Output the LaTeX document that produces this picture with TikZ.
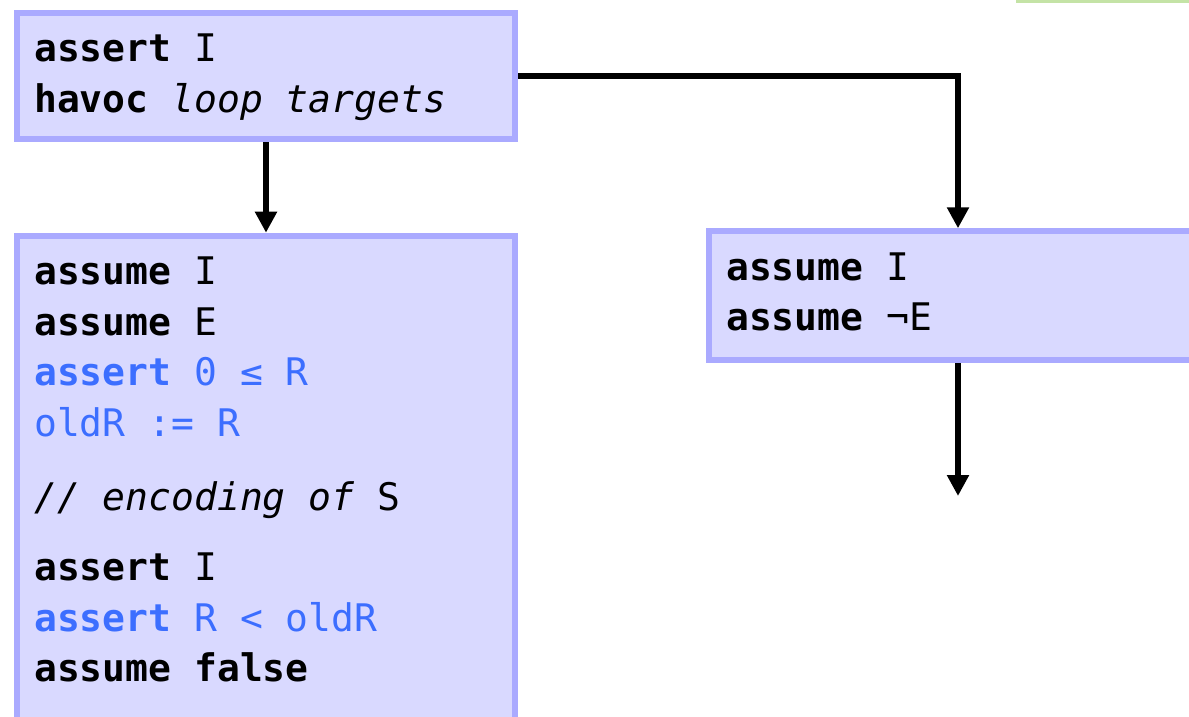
\documentclass[tikz,border=0pt]{standalone}
\usepackage{fontspec}
\setmonofont{DejaVu Sans Mono}
\usetikzlibrary{arrows.meta}
\definecolor{boxfill}{HTML}{D9D9FF}
\definecolor{boxedge}{HTML}{AAAAFF}
\definecolor{codeblue}{HTML}{3C6EFF}
\definecolor{greenedge}{HTML}{C4E3A6}
\begin{document}
\begin{tikzpicture}[x=1pt,y=-1pt,
  block/.style={draw=boxedge, fill=boxfill, line width=6pt, inner sep=0pt,
    minimum width=498pt},
  code/.style={anchor=base west, inner sep=0pt,
    font=\ttfamily\fontsize{38}{45}\selectfont},
  bluecode/.style={code, text=codeblue},
  conn/.style={line width=6.5pt, -{Triangle[length=21pt,width=21pt]}}]
\useasboundingbox (0,0) rectangle (1189,716);
\clip (0,0) rectangle (1189,716);

% edge of the neighbouring block above
\draw[greenedge, line width=3pt] (1017,-40) rectangle (1260,1);

% blocks
\node[block, minimum height=126pt] (head) at (266,76) {};
\node[block, minimum height=546pt] (body) at (266,508.7) {};
\node[block, minimum height=129pt] (exit) at (958,295.8) {};

% loop head
\node[code] (h1) at (34,61) {\textbf{assert} I};
\node[code] (h2) at (34,112) {\textbf{havoc} \textit{loop targets}};

% loop body
\node[code] (b1) at (34,284.3) {\textbf{assume} I};
\node[code] (b2) at (34,335) {\textbf{assume} E};
\node[bluecode] (b3) at (34,385.7) {\textbf{assert} 0 ≤ R};
\node[bluecode] (b4) at (34,436.4) {oldR := R};
\node[code] (b5) at (34,510.7) {\textit{// encoding of} S};
\node[code] (b6) at (34,580) {\textbf{assert} I};
\node[bluecode] (b7) at (34,631.7) {\textbf{assert} R < oldR};
\node[code] (b8) at (34,681.7) {\textbf{assume false}};

% loop exit
\node[code] (e1) at (726,280) {\textbf{assume} I};
\node[code] (e2) at (726,330) {\textbf{assume} ¬E};

% control flow
\coordinate (after) at (958,496);
\draw[conn] (head.south) -- (body.north);
\draw[conn] (head.east) -| (exit.north);
\draw[conn] (exit.south) -- (after);
\end{tikzpicture}
\end{document}
